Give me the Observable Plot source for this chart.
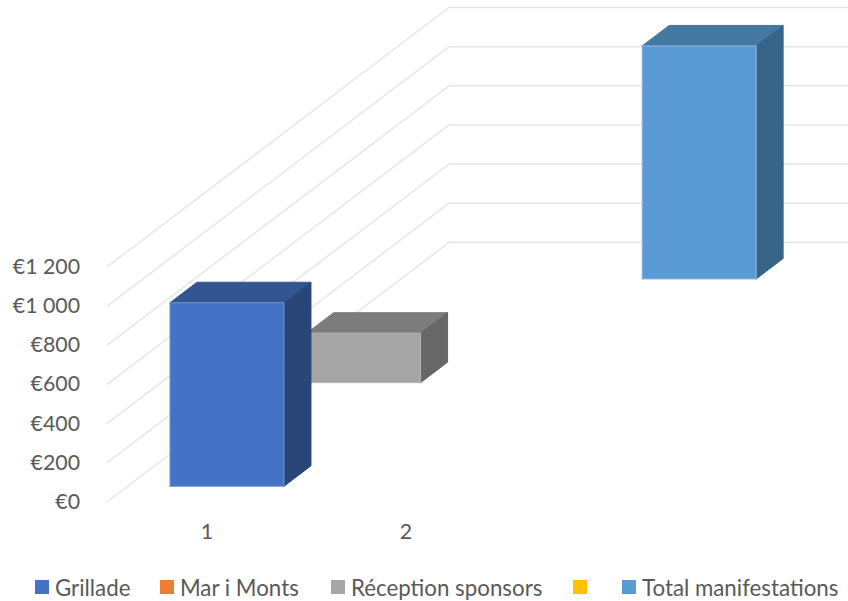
<!DOCTYPE html>
<html>
<head>
<meta charset="utf-8">
<script src="https://cdn.jsdelivr.net/npm/d3@7"></script>
<script src="https://cdn.jsdelivr.net/npm/@observablehq/plot@0.6"></script>
<style>
  html, body { margin: 0; padding: 0; background: #fff; overflow: hidden; }
  #chart { width: 848px; position: relative; }
  #chart svg { display: block; }
  #legend { position: relative; height: 41px; width: 848px; overflow: hidden; font-family: Lato, "Open Sans", sans-serif; font-size: 22.3px; color: #595959; }
  #legend .item { position: absolute; top: 13px; height: 28px; display: flex; align-items: center; white-space: nowrap; }
  #legend .sw { width: 14px; height: 14px; margin-right: 6px; flex: none; }
</style>
</head>
<body>
<div id="chart"></div>
<div id="legend"></div>
<script>
// Data
const categories = [1, 2];
const seriesNames = ["Grillade", "Mar i Monts", "Réception sponsors", "", "Total manifestations"];
const grillade = [938, null];
const marIMonts = [null, null];
const receptionSponsors = [253, null];
const blankSeries = [null, null];
const totalManifestations = [null, 1191];
const yTicks = [0, 200, 400, 600, 800, 1000, 1200];

// Styles
const frontColors = ["#4472C4", "#ED7D31", "#A5A5A5", "#FFC000", "#5B9BD5"];
const topColors = ["#335693", "#B25E25", "#7C7C7C", "#BF9000", "#4477A2"];
const sideColors = ["#2A4678", "#8F4C1E", "#676767", "#9C7600", "#376387"];
const edgeColors = ["#6F93D3", "#ED7D31", "#B5B5B5", "#FFC000", "#8DB9E2"];
const legendLefts = [35, 160, 331, 573, 622];

// Oblique projection of the 3-D plot box onto the scales
const depthX = 1.7168;      // back plane shift, in category units
const depthY = 1324;        // back plane shift, in euro units
const rows = seriesNames.length;
const barWidth = 0.573;
const barStart = 0.293;
const barDepth = 0.395;
const gridOverhang = 0.008;
const project = (cat, row, euro) => ({u: cat + (row / rows) * depthX, v: euro + (row / rows) * depthY});

const allSeries = [grillade, marIMonts, receptionSponsors, blankSeries, totalManifestations];
const faces = [];
allSeries.map((values, s) => ({values, s})).reverse().forEach(({values, s}) => {
  values.forEach((value, c) => {
    if (value == null) return;
    const l = categories[c] - barWidth / 2, r = categories[c] + barWidth / 2;
    const a = s + barStart, b = a + barDepth;
    const polys = [
      {name: "top", fill: topColors[s], pts: [[l, a, value], [r, a, value], [r, b, value], [l, b, value]]},
      {name: "side", fill: sideColors[s], pts: [[r, a, 0], [r, b, 0], [r, b, value], [r, a, value]]},
      {name: "front", fill: frontColors[s], edge: edgeColors[s], pts: [[l, a, 0], [r, a, 0], [r, a, value], [l, a, value]]}
    ];
    polys.forEach((p) => {
      const id = `${s}-${c}-${p.name}`;
      [...p.pts, p.pts[0]].forEach(([x, row, e]) => {
        faces.push({id, fill: p.fill, edge: p.edge || p.fill, ...project(x, row, e)});
      });
    });
  });
});

const xMin = categories[0] - 0.5;
const xMax = categories[1] + 0.5;
const grid = yTicks.flatMap((t) => [
  {t, ...project(xMin, 0, t)},
  {t, ...project(xMin, rows, t)},
  {t, ...project(xMax + gridOverhang, rows, t)}
]);

const chart = Plot.plot({
  width: 848,
  height: 560,
  marginLeft: 107,
  marginRight: 0,
  marginTop: 7,
  marginBottom: 59,
  style: {background: "#fff", fontFamily: "Lato, 'Open Sans', sans-serif", fontSize: "21px", color: "#595959"},
  x: {type: "linear", domain: [xMin, xMax + gridOverhang + depthX]},
  y: {type: "linear", domain: [0, 1200 + depthY]},
  marks: [
    Plot.line(grid, {x: "u", y: "v", z: "t", stroke: "#E6E6E6", strokeWidth: 1.5}),
    Plot.line(faces, {x: "u", y: "v", z: "id", fill: "fill", stroke: "edge", strokeWidth: 1, curve: "linear"}),
    Plot.axisY(yTicks, {anchor: "left", tickSize: 0, tickPadding: 27.5, label: null, dy: 0.5, tickFormat: (d) => "€" + (d >= 1000 ? d3.format(",")(d).replace(",", " ") : d), fill: "#595959", fontSize: 21.3}),
    Plot.axisX(categories, {anchor: "bottom", tickSize: 0, tickPadding: 22, label: null, tickFormat: (d) => String(d), fill: "#595959", fontSize: 21.3})
  ]
});
document.getElementById("chart").appendChild(chart);

const legend = document.getElementById("legend");
seriesNames.forEach((name, i) => {
  const item = document.createElement("div");
  item.className = "item";
  item.style.left = legendLefts[i] + "px";
  const sw = document.createElement("span");
  sw.className = "sw";
  sw.style.background = frontColors[i];
  item.appendChild(sw);
  if (name) {
    const label = document.createElement("span");
    label.textContent = name;
    item.appendChild(label);
  }
  legend.appendChild(item);
});
</script>
</body>
</html>
